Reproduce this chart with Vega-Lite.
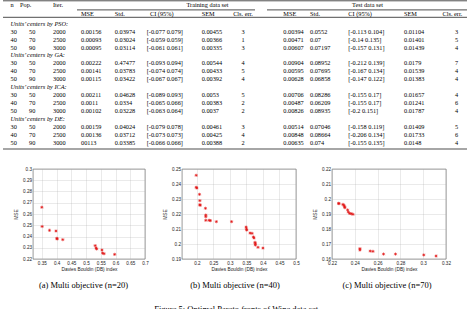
{
  "$schema": "https://vega.github.io/schema/vega-lite/v6.json",
  "padding": 0,
  "background": "white",
  "bounds": "flush",
  "spacing": 19,
  "title": {"text": "Figure 5: Optimal Pareto fronts of Wine data set", "orient": "bottom", "anchor": "middle", "offset": 15, "dx": 2.5},
  "config": {
    "view": {"stroke": null},
    "title": {"font": "Liberation Serif", "fontSize": 8.5, "fontWeight": "normal", "color": "black", "orient": "bottom", "anchor": "middle", "offset": 10},
    "axis": {
      "labelFont": "Liberation Sans", "labelFontSize": 4.6, "labelColor": "#222",
      "titleFont": "Liberation Sans", "titleFontSize": 4.8, "titleFontWeight": "normal", "titleColor": "#222",
      "ticks": false, "domain": false, "grid": true, "gridColor": "#aaa", "gridDash": [1, 1], "gridWidth": 0.5,
      "labelPadding": 1.5, "titlePadding": 1.5, "labelFlush": false, "labelOverlap": false
    },
    "axisY": {"titlePadding": 4}
  },
  "datasets": {
    "cols": [
      {"key": "n", "c": 1}, {"key": "pop", "c": 3}, {"key": "iter", "c": 4},
      {"key": "m1", "c": 6}, {"key": "s1", "c": 7}, {"key": "ci1", "c": 8}, {"key": "se1", "c": 10}, {"key": "ce1", "c": 12},
      {"key": "m2", "c": 15}, {"key": "s2", "c": 16}, {"key": "ci2", "c": 17}, {"key": "se2", "c": 19}, {"key": "ce2", "c": 21}
    ],
    "body": [
      {"r": 1, "n": "30", "pop": "50", "iter": "2000", "m1": "0.00156", "s1": "0.03974", "ci1": "[-0.077 0.079]", "se1": "0.00455", "ce1": "3", "m2": "0.00394", "s2": "0.0552", "ci2": "[-0.113 0.104]", "se2": "0.01104", "ce2": "3"},
      {"r": 2, "n": "40", "pop": "70", "iter": "2500", "m1": "0.00093", "s1": "0.03024", "ci1": "[-0.059 0.059]", "se1": "0.00366", "ce1": "1", "m2": "0.00471", "s2": "0.07", "ci2": "[-0.14 0.135]", "se2": "0.01401", "ce2": "5"},
      {"r": 3, "n": "50", "pop": "90", "iter": "3000", "m1": "0.00095", "s1": "0.03114", "ci1": "[-0.061 0.061]", "se1": "0.00335", "ce1": "3", "m2": "0.00607", "s2": "0.07197", "ci2": "[-0.157 0.131]", "se2": "0.01439", "ce2": "4"},
      {"r": 5, "n": "30", "pop": "50", "iter": "2000", "m1": "0.00222", "s1": "0.47477", "ci1": "[-0.093 0.094]", "se1": "0.00544", "ce1": "4", "m2": "0.00904", "s2": "0.08952", "ci2": "[-0.212 0.139]", "se2": "0.0179", "ce2": "7"},
      {"r": 6, "n": "40", "pop": "70", "iter": "2500", "m1": "0.00141", "s1": "0.03783", "ci1": "[-0.074 0.074]", "se1": "0.00433", "ce1": "5", "m2": "0.00595", "s2": "0.07695", "ci2": "[-0.167 0.134]", "se2": "0.01539", "ce2": "4"},
      {"r": 7, "n": "50", "pop": "90", "iter": "3000", "m1": "0.00115", "s1": "0.03422", "ci1": "[-0.067 0.067]", "se1": "0.00392", "ce1": "4", "m2": "0.00628", "s2": "0.06858", "ci2": "[-0.147 0.122]", "se2": "0.01383", "ce2": "4"},
      {"r": 9, "n": "30", "pop": "50", "iter": "2000", "m1": "0.00211", "s1": "0.04628", "ci1": "[-0.089 0.093]", "se1": "0.0053", "ce1": "5", "m2": "0.00706", "s2": "0.08286", "ci2": "[-0.155 0.17]", "se2": "0.01657", "ce2": "4"},
      {"r": 10, "n": "40", "pop": "70", "iter": "2500", "m1": "0.0011", "s1": "0.0334", "ci1": "[-0.065 0.066]", "se1": "0.00383", "ce1": "2", "m2": "0.00487", "s2": "0.06209", "ci2": "[-0.155 0.17]", "se2": "0.01241", "ce2": "6"},
      {"r": 11, "n": "50", "pop": "90", "iter": "3000", "m1": "0.00102", "s1": "0.03228", "ci1": "[-0.063 0.064]", "se1": "0.0037", "ce1": "2", "m2": "0.00826", "s2": "0.08935", "ci2": "[-0.2 0.151]", "se2": "0.01787", "ce2": "4"},
      {"r": 13, "n": "30", "pop": "50", "iter": "2000", "m1": "0.00159", "s1": "0.04024", "ci1": "[-0.079 0.078]", "se1": "0.00461", "ce1": "3", "m2": "0.00514", "s2": "0.07046", "ci2": "[-0.158 0.119]", "se2": "0.01409", "ce2": "5"},
      {"r": 14, "n": "40", "pop": "70", "iter": "2500", "m1": "0.00136", "s1": "0.03712", "ci1": "[-0.073 0.073]", "se1": "0.00425", "ce1": "4", "m2": "0.00848", "s2": "0.08664", "ci2": "[-0.206 0.134]", "se2": "0.01733", "ce2": "6"},
      {"r": 15, "n": "50", "pop": "90", "iter": "3000", "m1": "00113", "s1": "0.03385", "ci1": "[-0.066 0.066]", "se1": "0.00388", "ce1": "2", "m2": "0.00635", "s2": "0.074", "ci2": "[-0.155 0.135]", "se2": "0.0148", "ce2": "4"}
    ],
    "headers": [
      {"r": -2, "c": 1, "t": "n"}, {"r": -2, "c": 2, "t": "Pop."}, {"r": -2, "c": 4, "t": "Iter."},
      {"r": -2, "c": 11, "t": "Training data set"}, {"r": -2, "c": 18, "t": "Test data set"},
      {"r": -1, "c": 6, "t": "MSE"}, {"r": -1, "c": 7, "t": "Std."}, {"r": -1, "c": 9, "t": "CI (95%)"}, {"r": -1, "c": 10, "t": "SEM"}, {"r": -1, "c": 12, "t": "Cls. err."},
      {"r": -1, "c": 15, "t": "MSE"}, {"r": -1, "c": 16, "t": "Std."}, {"r": -1, "c": 17, "t": "CI (95%)"}, {"r": -1, "c": 19, "t": "SEM"}, {"r": -1, "c": 20, "t": "Cls. err."}
    ],
    "groups": [
      {"r": 0, "c": 1, "t": "Units’ centers by PSO:"},
      {"r": 4, "c": 1, "t": "Units’ centers by GA:"},
      {"r": 8, "c": 1, "t": "Units’ centers by ICA:"},
      {"r": 12, "c": 1, "t": "Units’ centers by DE:"}
    ],
    "rules": [
      {"r": -3, "c": 0, "c2": 22}, {"r": -1.5, "c": 5, "c2": 13}, {"r": -1.5, "c": 14, "c2": 22},
      {"r": -0.5, "c": 0, "c2": 22}, {"r": 16, "c": 0, "c2": 22}
    ],
    "frontA": [
      {"db": 0.350, "mse": 0.266}, {"db": 0.351, "mse": 0.2489}, {"db": 0.376, "mse": 0.2455}, {"db": 0.398, "mse": 0.2449},
      {"db": 0.401, "mse": 0.2384}, {"db": 0.402, "mse": 0.2378}, {"db": 0.421, "mse": 0.2372}, {"db": 0.531, "mse": 0.2319},
      {"db": 0.534, "mse": 0.2298}, {"db": 0.536, "mse": 0.2289}, {"db": 0.554, "mse": 0.228}, {"db": 0.556, "mse": 0.2253},
      {"db": 0.561, "mse": 0.2247}, {"db": 0.597, "mse": 0.2241}
    ],
    "frontB": [
      {"db": 0.198, "mse": 0.2458}, {"db": 0.198, "mse": 0.2378}, {"db": 0.2, "mse": 0.2373}, {"db": 0.208, "mse": 0.2331},
      {"db": 0.209, "mse": 0.2289}, {"db": 0.209, "mse": 0.2262}, {"db": 0.21, "mse": 0.2258}, {"db": 0.226, "mse": 0.2238},
      {"db": 0.227, "mse": 0.2193}, {"db": 0.227, "mse": 0.2182}, {"db": 0.227, "mse": 0.2158}, {"db": 0.237, "mse": 0.2158},
      {"db": 0.241, "mse": 0.2156}, {"db": 0.259, "mse": 0.2149}, {"db": 0.305, "mse": 0.2149}, {"db": 0.349, "mse": 0.2113},
      {"db": 0.35, "mse": 0.21}, {"db": 0.351, "mse": 0.2093}, {"db": 0.361, "mse": 0.2073}, {"db": 0.367, "mse": 0.2071},
      {"db": 0.371, "mse": 0.2047}, {"db": 0.373, "mse": 0.204}, {"db": 0.376, "mse": 0.2011}, {"db": 0.377, "mse": 0.2002},
      {"db": 0.377, "mse": 0.1993}, {"db": 0.385, "mse": 0.1978}, {"db": 0.4, "mse": 0.1973}
    ],
    "frontC": [
      {"db": 0.2258, "mse": 0.1971}, {"db": 0.2261, "mse": 0.1969}, {"db": 0.2296, "mse": 0.1964}, {"db": 0.2305, "mse": 0.1958},
      {"db": 0.231, "mse": 0.1949}, {"db": 0.2313, "mse": 0.1942}, {"db": 0.2337, "mse": 0.1927}, {"db": 0.2343, "mse": 0.1913},
      {"db": 0.2355, "mse": 0.1904}, {"db": 0.2369, "mse": 0.1902}, {"db": 0.2384, "mse": 0.1898}, {"db": 0.2445, "mse": 0.1669},
      {"db": 0.2445, "mse": 0.166}, {"db": 0.2535, "mse": 0.1653}, {"db": 0.2559, "mse": 0.1651}, {"db": 0.2652, "mse": 0.1633},
      {"db": 0.2757, "mse": 0.1633}, {"db": 0.3005, "mse": 0.1627}, {"db": 0.3113, "mse": 0.162}
    ],
    "blank": [{"t": ""}]
  },
  "vconcat": [
    {
      "width": 467,
      "height": 150,
      "encoding": {
        "x": {"field": "c", "type": "quantitative", "axis": null,
          "scale": {"domain": [0,1,2,3,4,5,6,7,8,9,10,11,12,13,14,15,16,17,18,19,20,21,22],
                    "range": [3,10.5,20,29,53,77,81,114.8,146.7,150,201.7,207.5,243,255,267,283.3,310,348.3,367.5,404,452.4,456.7,467],
                    "nice": false, "zero": false}},
        "y": {"field": "r", "type": "quantitative", "axis": null,
          "scale": {"domain": [-3,-2,-1.5,-1,-0.5,0,15,16], "range": [0.8,5,9.9,14,17.3,23.7,142.7,149], "nice": false, "zero": false}}
      },
      "layer": [
        {
          "data": {"name": "rules"},
          "mark": {"type": "rule", "color": "black", "strokeWidth": 0.7},
          "encoding": {"x2": {"field": "c2"}}
        },
        {
          "data": {"name": "body"},
          "transform": [
            {"fold": ["n","pop","iter","m1","s1","ci1","se1","ce1","m2","s2","ci2","se2","ce2"], "as": ["key","t"]},
            {"lookup": "key", "from": {"data": {"name": "cols"}, "key": "key", "fields": ["c"]}},
            {"filter": "datum.key != 'ce1' && datum.key != 'ce2'"}
          ],
          "mark": {"type": "text", "font": "Liberation Serif", "fontSize": 6.3, "align": "left", "baseline": "middle", "color": "black"},
          "encoding": {"text": {"field": "t"}}
        },
        {
          "data": {"name": "body"},
          "transform": [
            {"fold": ["n","pop","iter","m1","s1","ci1","se1","ce1","m2","s2","ci2","se2","ce2"], "as": ["key","t"]},
            {"lookup": "key", "from": {"data": {"name": "cols"}, "key": "key", "fields": ["c"]}},
            {"filter": "datum.key == 'ce1' || datum.key == 'ce2'"}
          ],
          "mark": {"type": "text", "font": "Liberation Serif", "fontSize": 6.3, "align": "center", "baseline": "middle", "color": "black"},
          "encoding": {"text": {"field": "t"}}
        },
        {
          "data": {"name": "headers"},
          "transform": [{"filter": "indexof([11,12,18,20], datum.c) < 0"}],
          "mark": {"type": "text", "font": "Liberation Serif", "fontSize": 6.3, "align": "left", "baseline": "middle", "color": "black"},
          "encoding": {"text": {"field": "t"}}
        },
        {
          "data": {"name": "headers"},
          "transform": [{"filter": "indexof([11,12,18,20], datum.c) >= 0"}],
          "mark": {"type": "text", "font": "Liberation Serif", "fontSize": 6.3, "align": "center", "baseline": "middle", "color": "black"},
          "encoding": {"text": {"field": "t"}}
        },
        {
          "data": {"name": "groups"},
          "mark": {"type": "text", "font": "Liberation Serif", "fontSize": 6.3, "fontStyle": "italic", "align": "left", "baseline": "middle", "color": "black"},
          "encoding": {"text": {"field": "t"}}
        }
      ]
    },
    {
      "bounds": "flush",
      "spacing": 0,
      "hconcat": [
        {"width": 33, "height": 90, "data": {"name": "blank"}, "mark": {"type": "text"}, "encoding": {"text": {"field": "t"}}},
        {
          "width": 112, "height": 90,
          "title": {"text": "(a) Multi objective (n=20)", "dx": -5.5},
          "view": {"stroke": "#555", "strokeWidth": 0.6},
          "data": {"name": "frontA"},
          "mark": {"type": "point", "shape": "M-1,0L1,0M0,-1L0,1M-0.7,-0.7L0.7,0.7M-0.7,0.7L0.7,-0.7", "filled": false, "color": "#e01010", "strokeWidth": 0.6, "size": 10, "opacity": 1},
          "encoding": {
            "x": {"field": "db", "type": "quantitative", "title": "Davies Bouldin (DB) index",
              "scale": {"domain": [0.32, 0.7], "nice": false, "zero": false},
              "axis": {"values": [0.35,0.4,0.45,0.5,0.55,0.6,0.65,0.7], "format": "~g"}},
            "y": {"field": "mse", "type": "quantitative", "title": "MSE",
              "scale": {"domain": [0.22, 0.3], "nice": false, "zero": false},
              "axis": {"values": [0.22,0.23,0.24,0.25,0.26,0.27,0.28,0.29,0.3], "format": "~g"}}
          }
        },
        {"width": 37, "height": 90, "data": {"name": "blank"}, "mark": {"type": "text"}, "encoding": {"text": {"field": "t"}}},
        {
          "width": 114, "height": 90,
          "title": {"text": "(b) Multi objective (n=40)", "dx": -4},
          "view": {"stroke": "#555", "strokeWidth": 0.6},
          "data": {"name": "frontB"},
          "mark": {"type": "point", "shape": "M-1,0L1,0M0,-1L0,1M-0.7,-0.7L0.7,0.7M-0.7,0.7L0.7,-0.7", "filled": false, "color": "#e01010", "strokeWidth": 0.6, "size": 10, "opacity": 1},
          "encoding": {
            "x": {"field": "db", "type": "quantitative", "title": "Davies Bouldin (DB) index",
              "scale": {"domain": [0.155, 0.5], "nice": false, "zero": false},
              "axis": {"values": [0.2,0.25,0.3,0.35,0.4,0.45,0.5], "format": "~g"}},
            "y": {"field": "mse", "type": "quantitative", "title": "MSE",
              "scale": {"domain": [0.19, 0.25], "nice": false, "zero": false},
              "axis": {"values": [0.19,0.2,0.21,0.22,0.23,0.24,0.25], "format": "~g"}}
          }
        },
        {"width": 36, "height": 90, "data": {"name": "blank"}, "mark": {"type": "text"}, "encoding": {"text": {"field": "t"}}},
        {
          "width": 114, "height": 90,
          "title": {"text": "(c) Multi objective (n=70)", "dx": -2},
          "view": {"stroke": "#555", "strokeWidth": 0.6},
          "data": {"name": "frontC"},
          "mark": {"type": "point", "shape": "M-1,0L1,0M0,-1L0,1M-0.7,-0.7L0.7,0.7M-0.7,0.7L0.7,-0.7", "filled": false, "color": "#e01010", "strokeWidth": 0.6, "size": 10, "opacity": 1},
          "encoding": {
            "x": {"field": "db", "type": "quantitative", "title": "Davies Bouldin (DB) index",
              "scale": {"domain": [0.22, 0.32], "nice": false, "zero": false},
              "axis": {"values": [0.22,0.24,0.26,0.28,0.3,0.32], "format": "~g"}},
            "y": {"field": "mse", "type": "quantitative", "title": "MSE",
              "scale": {"domain": [0.16, 0.22], "nice": false, "zero": false},
              "axis": {"values": [0.16,0.17,0.18,0.19,0.2,0.21,0.22], "format": "~g"}}
          }
        }
      ]
    }
  ]
}
